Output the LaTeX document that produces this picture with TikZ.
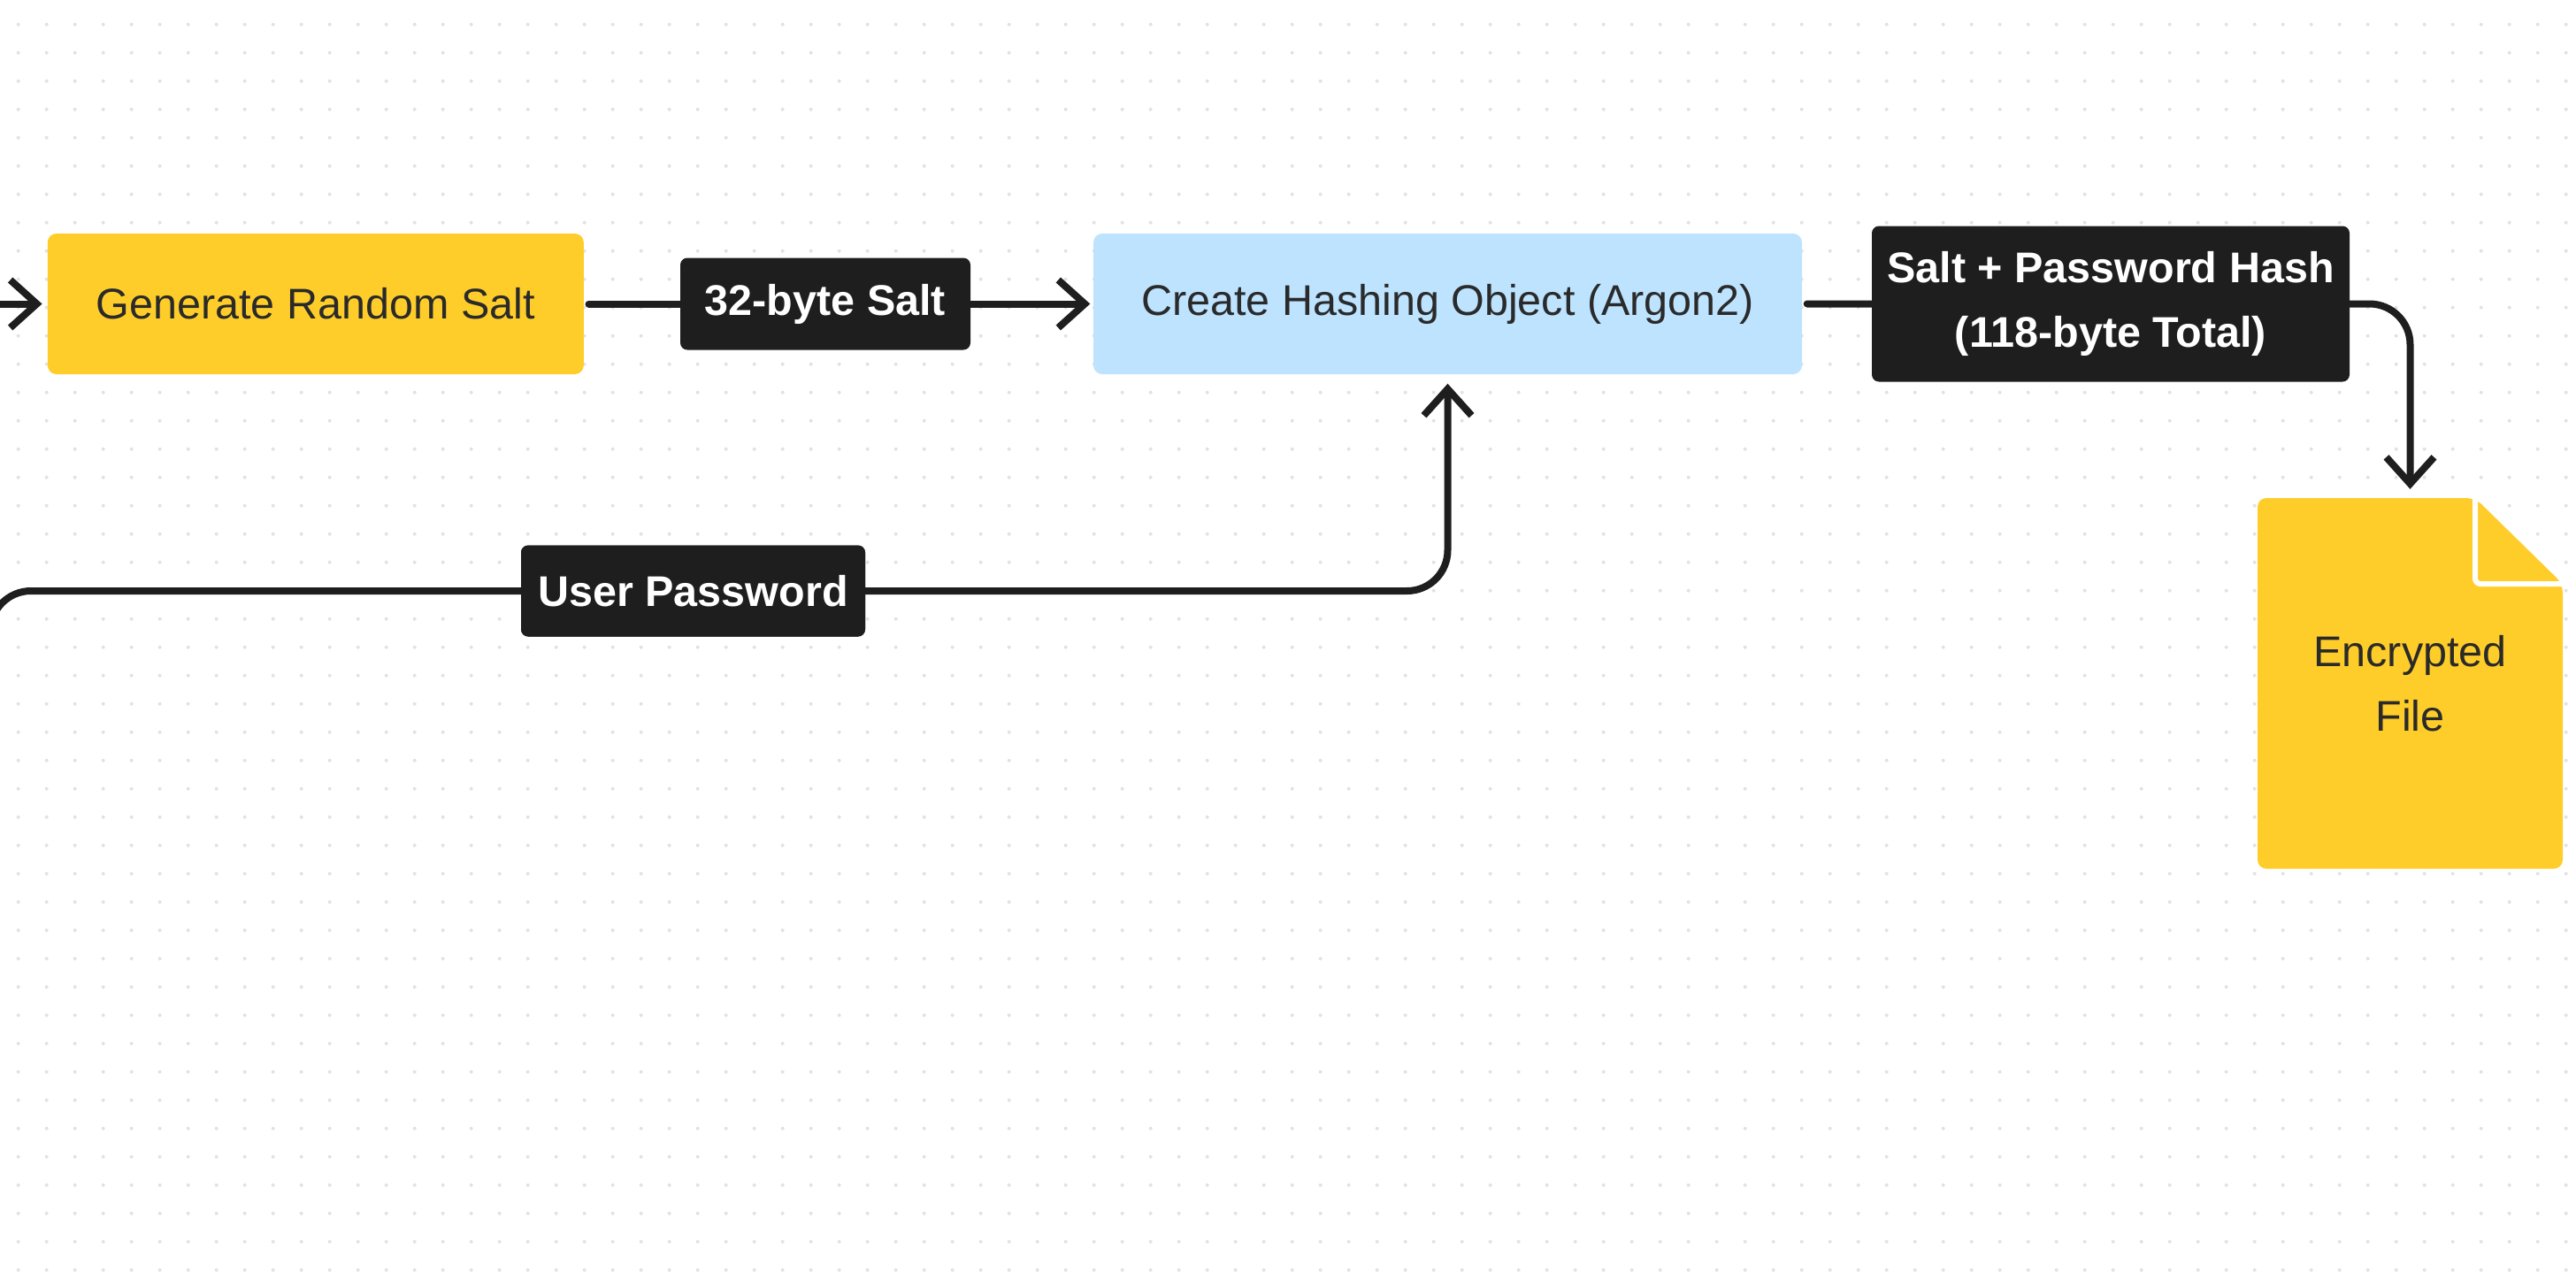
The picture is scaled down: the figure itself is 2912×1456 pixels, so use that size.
\documentclass[tikz,border=0pt]{standalone}
\usepackage{fontspec}
\setmainfont{Liberation Sans}
\usetikzlibrary{arrows.meta}
\definecolor{figyellow}{HTML}{FFCD29}
\definecolor{figblue}{HTML}{BDE3FF}
\definecolor{figdark}{HTML}{1E1E1E}
\definecolor{figtext}{HTML}{2A2A2A}
\definecolor{figdot}{HTML}{E2E2E2}
\begin{document}
\begin{tikzpicture}[x=0.1mm, y=-0.1mm, line join=round, line cap=round,
  font=\fontsize{13.8}{20.8}\selectfont,
  >={Straight Barb[length=3mm,width=5.4mm]},
  conn/.style={draw=figdark, line width=0.8mm, rounded corners=4.6mm},
  stepbox/.style={rounded corners=1mm, inner sep=0pt, text=figtext, align=center},
  tag/.style={fill=figdark, text=white, font=\fontsize{13.8}{20.8}\selectfont\bfseries, rounded corners=0.8mm, inner sep=0pt, align=center}]
\useasboundingbox (0,0) rectangle (2912,1456);
\clip (0,0) rectangle (2912,1456);
\foreach \j in {0,...,44} {\fill[figdot] \foreach \i in {0,...,90} {(20.7+32*\i, 27.7+32*\j) circle (0.2mm)};}

\node[stepbox, fill=figyellow, minimum width=60.6mm, minimum height=15.9mm] (gen) at (356.8,343.5) {Generate Random Salt};
\node[stepbox, fill=figblue, minimum width=80.1mm, minimum height=15.9mm] (hash) at (1636.5,343.5) {Create Hashing Object (Argon2)};
\fill[figyellow, rounded corners=1mm] (2552,982) -- (2552,563) -- (2798,563) -- (2897,660) -- (2897,982) -- cycle;
\draw[white, line width=0.6mm, rounded corners=0.6mm] (2798,563) -- (2798,660) -- (2897,660);
\node[stepbox, minimum width=34.5mm, minimum height=42mm] (file) at (2724.5,772.5) {Encrypted\\File};

\coordinate (entry) at (-40,343.5);
\coordinate (pwsrc) at (-11,900);
\node[tag, minimum width=38.9mm, minimum height=10.3mm] (pwtag) at (783.5,668) {User Password};

\draw[conn,->] (entry) -- ([xshift=-0.55mm]gen.west);
\draw[conn,->] ([xshift=0.5mm]gen.east) -- ([xshift=-0.3mm]hash.west);
\draw[conn,->] (pwsrc) |- (pwtag.west) -| ([yshift=-1mm]hash.south);
\draw[conn,->] ([xshift=0.5mm]hash.east) -| ([yshift=0.9mm]file.north);

\node[tag, minimum width=32.8mm, minimum height=10.4mm] (salttag) at (933,343.5) {32-byte Salt};
\node[tag, minimum width=54mm, minimum height=17.6mm] (hashtag) at (2386,343.5) {Salt + Password Hash\\(118-byte Total)};
\node[tag, minimum width=38.9mm, minimum height=10.3mm] at (pwtag) {User Password};
\end{tikzpicture}
\end{document}
